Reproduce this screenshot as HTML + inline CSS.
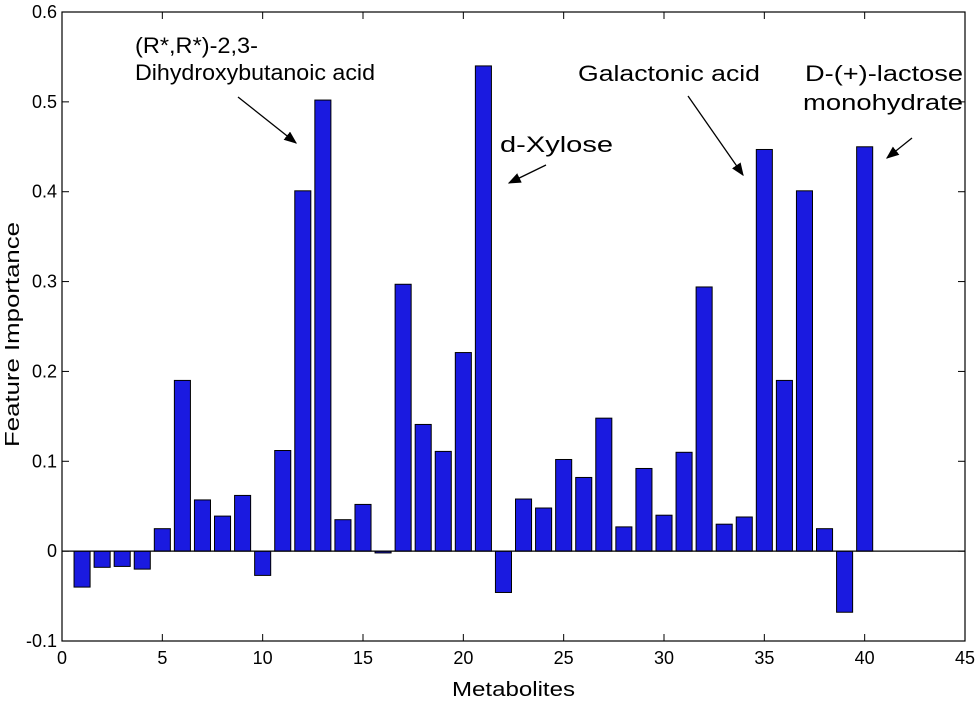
<!DOCTYPE html>
<html><head><meta charset="utf-8"><style>
body{margin:0;background:#fff;}
svg{display:block;font-family:"Liberation Sans",Arial,sans-serif;}
</style></head><body>
<svg id="chart" width="980" height="703" viewBox="0 0 980 703" xmlns="http://www.w3.org/2000/svg">
<defs><marker id="ah" markerWidth="10" markerHeight="8" refX="9" refY="4" orient="auto"><path d="M0,0 L10,4 L0,8 Z" fill="#000"/></marker></defs>
<g id="plot"></g>
<g font-size="22" fill="#000">
<text x="135" y="53" textLength="123" lengthAdjust="spacingAndGlyphs">(R*,R*)-2,3-</text>
<text x="135" y="80" textLength="240" lengthAdjust="spacingAndGlyphs">Dihydroxybutanoic acid</text>
<text x="500" y="152" textLength="113" lengthAdjust="spacingAndGlyphs">d-Xylose</text>
<text x="578" y="81" textLength="182" lengthAdjust="spacingAndGlyphs">Galactonic acid</text>
<text x="805" y="81" textLength="158" lengthAdjust="spacingAndGlyphs">D-(+)-lactose</text>
<text x="803" y="110" textLength="160" lengthAdjust="spacingAndGlyphs">monohydrate</text>
</g>
<g stroke="#000" stroke-width="1.3">
<line x1="238" y1="97" x2="296" y2="143" marker-end="url(#ah)"/>
<line x1="546" y1="165" x2="509" y2="183" marker-end="url(#ah)"/>
<line x1="688" y1="96" x2="743" y2="175" marker-end="url(#ah)"/>
<line x1="912" y1="138" x2="887" y2="158" marker-end="url(#ah)"/>
</g>
</svg>
<script>
const categories=[1,2,3,4,5,6,7,8,9,10,11,12,13,14,15,16,17,18,19,20,21,22,23,24,25,26,27,28,29,30,31,32,33,34,35,36,37,38,39,40];
const importance=[-0.04,-0.018,-0.017,-0.02,0.025,0.19,0.057,0.039,0.062,-0.027,0.112,0.401,0.502,0.035,0.052,-0.002,0.297,0.141,0.111,0.221,0.54,-0.046,0.058,0.048,0.102,0.082,0.148,0.027,0.092,0.04,0.11,0.294,0.03,0.038,0.447,0.19,0.401,0.025,-0.068,0.45];
const xTicks=[0,5,10,15,20,25,30,35,40,45];
const yTicks=[-0.1,0,0.1,0.2,0.3,0.4,0.5,0.6];
const yTickLabels=["-0.1","0","0.1","0.2","0.3","0.4","0.5","0.6"];
const NS="http://www.w3.org/2000/svg";
const L=62,R=965,T=12,B=641;
const xs=v=>L+(v-0)/45*(R-L);
const ys=v=>B-(v+0.1)/0.7*(B-T);
const g=document.getElementById('plot');
function mk(t,a){const e=document.createElementNS(NS,t);for(const k in a)e.setAttribute(k,a[k]);g.appendChild(e);return e;}
const bw=0.8*(R-L)/45;
categories.forEach((c,i)=>{const v=importance[i];const y0=ys(0),y1=ys(v);
const r=mk('rect',{x:xs(c)-bw/2,y:Math.min(y0,y1),width:bw,height:Math.max(Math.abs(y1-y0),1),fill:'#1a1ae0',stroke:'#000','stroke-width':1});

});
const zl=mk('line',{x1:L,x2:R,y1:ys(0),y2:ys(0),stroke:'#000','stroke-width':1.2});


const fr=mk('rect',{x:L,y:T,width:R-L,height:B-T,fill:'none',stroke:'#000','stroke-width':1.2});


xTicks.forEach(t=>{const x=xs(t);
mk('line',{x1:x,x2:x,y1:B,y2:B-7,stroke:'#000'});mk('line',{x1:x,x2:x,y1:T,y2:T+7,stroke:'#000'});
const tx=mk('text',{x:x,y:B+23,'text-anchor':'middle','font-size':18});tx.textContent=t;

});
yTicks.forEach((t,i)=>{const y=ys(t);
mk('line',{x1:L,x2:L+7,y1:y,y2:y,stroke:'#000'});mk('line',{x1:R,x2:R-7,y1:y,y2:y,stroke:'#000'});
const tx=mk('text',{x:L-5,y:y+6,'text-anchor':'end','font-size':18});tx.textContent=yTickLabels[i];

});
const xt=mk('text',{x:(L+R)/2,y:696,'text-anchor':'middle','font-size':20,textLength:123,lengthAdjust:'spacingAndGlyphs'});xt.textContent='Metabolites';


const yt=mk('text',{x:0,y:0,'text-anchor':'middle','font-size':20,textLength:225,lengthAdjust:'spacingAndGlyphs',transform:'translate(19,'+((T+B)/2+8)+') rotate(-90)'});yt.textContent='Feature Importance';


</script>
</body></html>
